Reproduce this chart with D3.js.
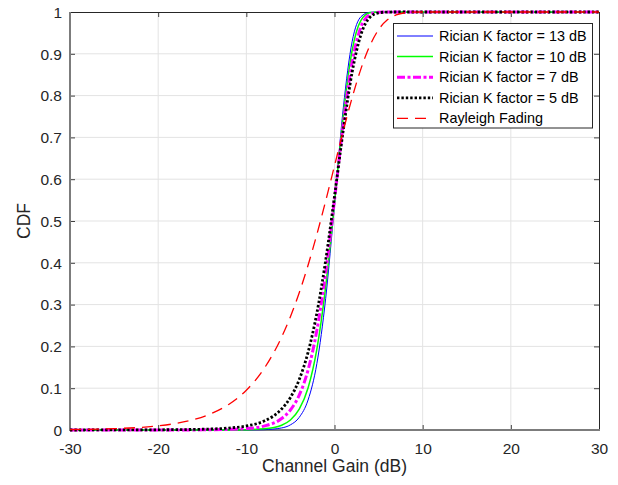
<!DOCTYPE html>
<html>
<head>
<meta charset="utf-8">
<script src="https://cdn.jsdelivr.net/npm/d3@7"></script>
<style>
body { margin: 0; background: #fff; }
svg { font-family: "Liberation Sans", Arial, Helvetica, sans-serif; }
</style>
</head>
<body>
<svg id="chart" width="618" height="485"></svg>
<script>
// gain grid (dB) used by the four Rician curves
const gainDb = [-30, -25, -20, -15, -12, -10, -8, -6, -5, -4, -3, -2, -1, 0, 1, 2, 3, 4, 5, 6, 8, 10, 15, 20, 25, 30];

// CDF values
const cdfK13 = [0, 0, 0, 0, 0.00003, 0.00017, 0.00084, 0.0049, 0.0123, 0.0302, 0.0717, 0.1588, 0.315, 0.538, 0.771, 0.929, 0.9888, 0.9993, 1, 1, 1, 1, 1, 1, 1, 1];
const cdfK10 = [0, 0, 0, 0.00002, 0.00018, 0.00075, 0.00275, 0.0114, 0.024, 0.0497, 0.1006, 0.1935, 0.3428, 0.5429, 0.753, 0.908, 0.98, 0.998, 0.9999, 1, 1, 1, 1, 1, 1, 1];
const cdfK7 = [0.00001, 0.00002, 0.00008, 0.00034, 0.0014, 0.0034, 0.0093, 0.0274, 0.0478, 0.0834, 0.1434, 0.2384, 0.376, 0.5505, 0.7325, 0.88, 0.964, 0.994, 0.9995, 1, 1, 1, 1, 1, 1, 1];
const cdfK5 = [0.00004, 0.00014, 0.00045, 0.0018, 0.0047, 0.0096, 0.0213, 0.0501, 0.0778, 0.1208, 0.1859, 0.2798, 0.406, 0.559, 0.718, 0.856, 0.946, 0.987, 0.998, 0.9999, 1, 1, 1, 1, 1, 1];

// Rayleigh curve has its own (denser) gain grid
const rayleighGainDb = [-30, -25, -20, -18, -16, -14, -12, -10, -9, -8, -7, -6, -5, -4, -3, -2, -1, 0, 1, 2, 3, 4, 5, 6, 7, 8, 9, 10, 12, 15, 20, 25, 30];
const cdfRayleigh = [0.001, 0.00316, 0.00995, 0.0157, 0.0248, 0.039, 0.0612, 0.0952, 0.1183, 0.1466, 0.1809, 0.2222, 0.2711, 0.3284, 0.3942, 0.4679, 0.5481, 0.6321, 0.7161, 0.795, 0.864, 0.9189, 0.9577, 0.9813, 0.9933, 0.9982, 0.9997, 0.99995, 1, 1, 1, 1, 1];

const legendNames = ["Rician K factor = 13 dB", "Rician K factor = 10 dB", "Rician K factor = 7 dB", "Rician K factor = 5 dB", "Rayleigh Fading"];
const xTicks = [-30, -20, -10, 0, 10, 20, 30];
const yTicks = [0, 0.1, 0.2, 0.3, 0.4, 0.5, 0.6, 0.7, 0.8, 0.9, 1];

let series = [
    {name: legendNames[0], xs: gainDb, ys: cdfK13, color: "#0000ff", width: 1, dash: null},
    {name: legendNames[1], xs: gainDb, ys: cdfK10, color: "#00ff00", width: 1.5, dash: null},
    {name: legendNames[2], xs: gainDb, ys: cdfK7, color: "#ff00ff", width: 3, dash: "8,2.5,3,2.5"},
    {name: legendNames[3], xs: gainDb, ys: cdfK5, color: "#000000", width: 2.8, dash: "2.4,2"},
    {name: legendNames[4], xs: rayleighGainDb, ys: cdfRayleigh, color: "#ff0000", width: 1.3, dash: "11,7"}
];

let pL = 70, pR = 599, pT = 12, pB = 430;
let x = d3.scaleLinear().domain([-30, 30]).range([pL, pR]);
let y = d3.scaleLinear().domain([0, 1]).range([pB, pT]);

let svg = d3.select("#chart");

// grid
let grid = svg.append("g").attr("stroke", "#e3e3e3").attr("stroke-width", 1);
grid.selectAll("line.gx").data(xTicks.slice(1, -1)).join("line").attr("class", "gx")
    .attr("x1", d => x(d)).attr("x2", d => x(d)).attr("y1", pT).attr("y2", pB);
grid.selectAll("line.gy").data(yTicks.slice(1, -1)).join("line").attr("class", "gy")
    .attr("x1", pL).attr("x2", pR).attr("y1", d => y(d)).attr("y2", d => y(d));

// axes, ticks pointing inside like matlab; plain hyphen for negatives
let fmt = d => String(d);
let xAxis = svg.append("g").attr("transform", `translate(0,${pB})`)
    .call(d3.axisBottom(x).tickValues(xTicks).tickFormat(fmt).tickSizeInner(-5).tickSizeOuter(0).tickPadding(13));
let yAxis = svg.append("g").attr("transform", `translate(${pL},0)`)
    .call(d3.axisLeft(y).tickValues(yTicks).tickFormat(fmt).tickSizeInner(-5).tickSizeOuter(0).tickPadding(8));
let xTop = svg.append("g").attr("transform", `translate(0,${pT})`)
    .call(d3.axisTop(x).tickValues(xTicks).tickFormat("").tickSizeInner(-5).tickSizeOuter(0));
let yRight = svg.append("g").attr("transform", `translate(${pR},0)`)
    .call(d3.axisRight(y).tickValues(yTicks).tickFormat("").tickSizeInner(-5).tickSizeOuter(0));

[xAxis, yAxis, xTop, yRight].forEach(g => {
    g.select(".domain").remove();
    g.selectAll(".tick line").attr("stroke", "#404040");
    g.selectAll(".tick text").attr("fill", "#262626").style("font-size", "15.5px");
});
yAxis.selectAll(".tick text").attr("dy", "0.34em");

// box
svg.append("line").attr("x1", pL).attr("x2", pR).attr("y1", pT + 0.5).attr("y2", pT + 0.5)
    .attr("stroke", "#262626");
svg.append("line").attr("x1", pR + 0.5).attr("x2", pR + 0.5).attr("y1", pT).attr("y2", pB)
    .attr("stroke", "#262626");
svg.append("line").attr("x1", pL).attr("x2", pL).attr("y1", pT).attr("y2", pB + 1)
    .attr("stroke", "#7c7c7c").attr("stroke-width", 2);
svg.append("line").attr("x1", pL - 1).attr("x2", pR + 1).attr("y1", pB).attr("y2", pB)
    .attr("stroke", "#7c7c7c").attr("stroke-width", 2);

// curves
let line = d3.line().x(d => x(d[0])).y(d => y(d[1])).curve(d3.curveMonotoneX);
svg.append("g").selectAll("path").data(series).join("path")
    .attr("d", s => line(s.xs.map((g, i) => [g, s.ys[i]])))
    .attr("fill", "none")
    .attr("stroke", s => s.color)
    .attr("stroke-width", s => s.width)
    .attr("stroke-dasharray", s => s.dash);

// axis labels
svg.append("text").attr("x", (pL + pR) / 2).attr("y", 472).attr("text-anchor", "middle")
    .attr("fill", "#262626").style("font-size", "17.5px").text("Channel Gain (dB)");
svg.append("text").attr("transform", `translate(30,${(pT + pB) / 2}) rotate(-90)`)
    .attr("text-anchor", "middle").attr("fill", "#262626").style("font-size", "17.5px").text("CDF");

// legend
let lg = svg.append("g");
lg.append("rect").attr("x", 393.5).attr("y", 23.5).attr("width", 199).attr("height", 104.5)
    .attr("fill", "#fff").attr("stroke", "#262626");
let rows = lg.selectAll("g.row").data(series).join("g").attr("class", "row")
    .attr("transform", (s, i) => `translate(0,${36 + i * 20.6})`);
rows.append("line").attr("x1", 397).attr("x2", 433)
    .attr("stroke", s => s.color).attr("stroke-width", s => s.width)
    .attr("stroke-dasharray", s => s.dash);
rows.append("text").attr("x", 439).attr("dy", "0.35em").style("font-size", "14.4px")
    .attr("fill", "#000").text(s => s.name);
</script>
</body>
</html>
